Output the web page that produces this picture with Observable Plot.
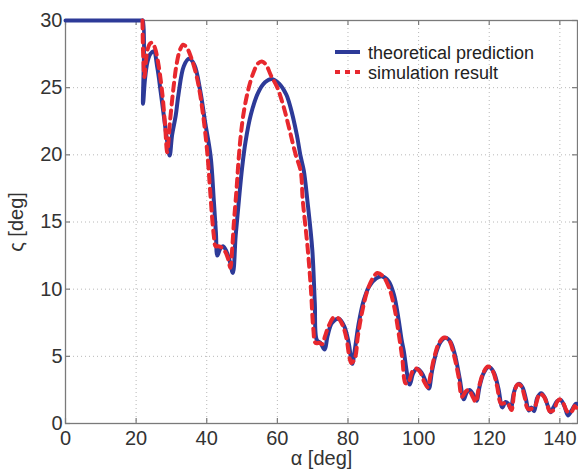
<!DOCTYPE html>
<html><head><meta charset="utf-8">
<script src="https://cdn.jsdelivr.net/npm/d3@7"></script>
<script src="https://cdn.jsdelivr.net/npm/@observablehq/plot@0.6"></script>
<style>
body{margin:0;background:#fff;}
#wrap{position:relative;width:578px;height:469px;}
#legend{position:absolute;left:0;top:0;pointer-events:none;}
</style></head><body><div id="wrap"></div>
<script>
const seriesNames = ["theoretical prediction", "simulation result"];
const seriesColors = ["#2d3a98", "#e8282e"];
const xTicks = [0, 20, 40, 60, 80, 100, 120, 140];
const yTicks = [0, 5, 10, 15, 20, 25, 30];

const theoryAlpha = [0,5,10,15,20,21.5,21.9,21.95,22.5,23.2,24.0,25.0,26.0,27.0,28.0,28.8,29.5,30.2,31.2,32.0,33.5,35.0,36.5,38.2,39.5,41.1,42.0,42.6,43.0,43.8,44.6,45.6,46.6,47.4,48.2,49.1,50.0,51.0,52.5,54.5,56.5,58.4,60.5,62.5,63.7,65.5,66.5,67.5,68.5,69.9,70.6,71.2,72.2,73.4,74.2,75.5,77.4,79.0,80.2,81.2,82.0,83.0,84.5,86.0,88.0,89.7,91.5,93.0,94.3,95.2,95.8,96.8,97.5,98.5,99.6,100.8,101.9,102.9,103.8,105.0,106.3,107.6,109.0,110.3,111.6,112.8,113.6,114.4,115.4,116.4,117.3,118.5,119.9,121.3,122.6,123.7,124.6,125.3,126.1,126.9,127.6,128.4,129.4,130.4,131.2,131.9,132.7,133.6,134.7,135.8,136.6,137.4,138.2,139.2,140.2,141.3,142.3,143.4,144.5,145];
const theoryZeta = [30,30,30,30,30,30,30,23.8,25.6,26.9,27.5,27.7,26.5,24.6,22.6,21.0,19.95,21.5,22.9,24.5,26.6,27.15,26.7,24.7,22.5,19.9,16.6,14.2,12.5,13.0,13.2,12.8,12.0,11.2,14.0,16.6,19.0,21.0,23.0,24.6,25.4,25.65,25.3,24.5,23.55,21.5,20.0,18.8,16.6,12.9,9.0,6.2,6.0,5.5,6.5,7.5,7.8,7.2,6.0,4.44,5.6,7.4,9.2,10.2,10.8,10.95,10.6,9.6,7.8,6.2,5.4,3.6,2.9,3.75,4.07,3.8,3.2,2.6,3.9,5.3,6.1,6.38,6.1,5.1,3.4,1.8,2.3,2.5,2.2,1.7,2.8,3.8,4.2,3.8,2.6,1.2,1.6,1.5,1.1,2.2,2.75,2.95,2.7,1.8,0.97,1.2,0.92,1.9,2.26,1.9,1.3,0.84,1.2,1.65,1.76,1.3,0.6,1.0,1.47,1.45];

const simAlpha = [21.8,22.0,22.35,22.8,23.3,24.0,24.6,25.4,26.4,27.4,28.2,28.8,29.6,30.5,31.5,32.4,33.3,34.3,35.5,36.7,37.8,39.0,40.1,41.0,41.5,42.0,42.5,43.3,44.2,45.2,46.0,46.7,47.2,47.7,48.4,49.1,49.7,50.5,51.8,53.2,54.5,55.6,56.8,58.2,60.0,61.8,63.5,65.2,66.6,67.2,68.6,69.5,70.2,70.8,72.0,72.7,73.5,74.6,76.0,77.2,78.5,79.6,80.5,81.0,82.0,82.8,84.0,85.5,87.0,88.3,89.8,91.5,93.0,94.3,95.4,96.3,97.0,98.3,99.3,100.5,101.6,102.6,103.3,104.5,105.8,107.2,108.6,110.0,111.3,112.3,113.4,114.2,115.3,116.2,117.0,118.2,119.6,121.0,122.2,123.3,124.2,125.3,126.3,127.1,128.0,129.0,130.0,130.9,132.0,133.0,134.3,135.5,136.3,137.2,138.3,139.2,140.0,141.0,141.8,142.6,143.4,144.2,145.0];
const simZeta = [30,27.4,25.8,27.0,27.9,28.3,28.35,27.9,26.6,24.6,22.2,20.2,22.5,24.8,26.8,27.8,28.2,28.0,27.3,26.3,25.0,22.9,20.3,17.2,15.4,14.0,13.2,13.2,13.1,12.8,12.3,11.6,13.0,15.0,17.3,19.9,21.6,23.2,24.9,26.1,26.8,26.95,26.7,25.9,25.0,23.55,21.8,20.0,18.8,16.6,13.0,10.0,7.0,6.0,6.0,5.9,6.5,7.3,7.9,7.85,7.3,6.3,4.8,4.5,4.9,6.5,8.3,9.9,10.8,11.2,11.0,10.2,8.8,6.8,4.8,3.0,3.0,3.9,4.1,3.8,3.1,2.7,3.5,5.0,6.0,6.4,6.2,5.1,3.5,2.0,2.4,2.5,2.0,1.6,2.6,3.7,4.25,3.9,2.8,1.5,1.5,1.5,1.0,2.3,2.9,2.8,2.0,1.1,1.1,1.3,2.2,2.0,1.5,0.9,1.0,1.6,1.8,1.5,1.0,0.8,0.9,1.3,1.0];

const theory = theoryAlpha.map((a, i) => ({alpha: a, zeta: theoryZeta[i]}));
const sim = simAlpha.map((a, i) => ({alpha: a, zeta: simZeta[i]}));

const W = 578, H = 469;
const mT = 20, mR = 1, mB = 46, mL = 65;
const innerW = W - mL - mR, innerH = H - mT - mB;
const gridStyle = {stroke: "#b8b8b8", strokeDasharray: "1,3", strokeWidth: 1};
const axisGray = "#7a7a7a";

const chart = Plot.plot({
  width: W, height: H,
  marginTop: mT, marginRight: mR, marginBottom: mB, marginLeft: mL,
  style: {fontFamily: "'Liberation Sans', Arial, Helvetica, sans-serif", fontSize: "20px", color: "#333", background: "#fff"},
  x: {domain: [0, 145], ticks: xTicks, tickSize: 0, tickPadding: 7, label: "α [deg]", labelAnchor: "center", labelOffset: 41, labelArrow: "none"},
  y: {domain: [0, 30], ticks: yTicks, tickSize: 0, tickPadding: 3, label: "ς [deg]", labelAnchor: "center", labelOffset: 57, labelArrow: "none"},
  marks: [
    Plot.ruleX(xTicks.filter(d => d > 0), {x: d => d, ...gridStyle}),
    Plot.ruleY(yTicks.filter(d => d > 0 && d < 30), {y: d => d, ...gridStyle}),
    Plot.frame({stroke: axisGray, strokeWidth: 1.3}),
    Plot.tickX(xTicks, {x: d => d, insetTop: innerH - 5, stroke: axisGray, strokeWidth: 1.2}),
    Plot.tickX(xTicks, {x: d => d, insetBottom: innerH - 5, stroke: axisGray, strokeWidth: 1.2}),
    Plot.tickY(yTicks, {y: d => d, insetRight: innerW - 5, stroke: axisGray, strokeWidth: 1.2}),
    Plot.tickY(yTicks, {y: d => d, insetLeft: innerW - 5, stroke: axisGray, strokeWidth: 1.2}),
    Plot.line(theory, {x: "alpha", y: "zeta", stroke: seriesColors[0], strokeWidth: 4, curve: "catmull-rom"}),
    Plot.line(sim, {x: "alpha", y: "zeta", stroke: seriesColors[1], strokeWidth: 4, strokeDasharray: "8,6", curve: "catmull-rom"})
  ]
});
const wrap = document.getElementById("wrap");
wrap.appendChild(chart);

// legend overlay
const ns = "http://www.w3.org/2000/svg";
const leg = document.createElementNS(ns, "svg");
leg.setAttribute("id", "legend");
leg.setAttribute("width", W);
leg.setAttribute("height", 100);
seriesNames.forEach((name, i) => {
  const y = 52 + i * 20;
  const ln = document.createElementNS(ns, "line");
  ln.setAttribute("x1", 335); ln.setAttribute("x2", 360);
  ln.setAttribute("y1", y); ln.setAttribute("y2", y);
  ln.setAttribute("stroke", seriesColors[i]);
  ln.setAttribute("stroke-width", 4);
  if (i === 1) ln.setAttribute("stroke-dasharray", "5,5");
  leg.appendChild(ln);
  const t = document.createElementNS(ns, "text");
  t.setAttribute("x", 368); t.setAttribute("y", y + 6.5);
  t.setAttribute("font-family", "'Liberation Sans', Arial, Helvetica, sans-serif");
  t.setAttribute("font-size", "18px");
  t.setAttribute("fill", "#222");
  t.textContent = name;
  leg.appendChild(t);
});
wrap.appendChild(leg);
</script></body></html>
